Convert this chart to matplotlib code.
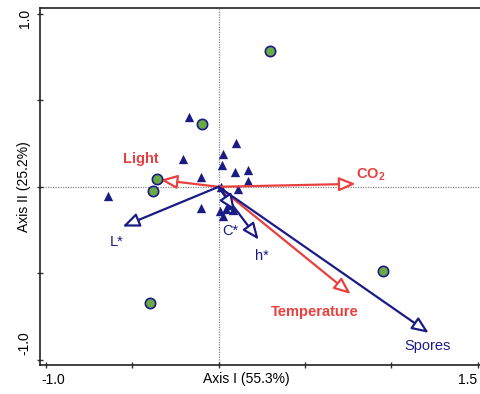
import matplotlib
matplotlib.use('Agg')
import matplotlib.pyplot as plt
import matplotlib.transforms as mtransforms

plt.rcParams['font.family'] = ['Liberation Sans', 'DejaVu Sans']
plt.rcParams['mathtext.fontset'] = 'custom'
plt.rcParams['mathtext.rm'] = 'Liberation Sans'
plt.rcParams['mathtext.bf'] = 'Liberation Sans:bold'

navy = '#1b1b85'
red = '#e8403f'
green = '#6aaa44'

# sites (green circles)
site_x = [0.295, -0.098, -0.359, -0.382, -0.40, 0.95]
site_y = [0.786, 0.364, 0.046, -0.023, -0.67, -0.49]

# samples (triangles)
tri_x = [-0.174, 0.098, 0.023, -0.209, 0.017, 0.093, 0.168, -0.104, 0.168,
         0.012, 0.110, -0.643, -0.104, 0.006, 0.023, 0.058, 0.081, 0.041]
tri_y = [0.405, 0.254, 0.191, 0.162, 0.127, 0.087, 0.098, 0.058, 0.035,
         0.0, -0.012, -0.052, -0.121, -0.139, -0.168, -0.104, -0.133, -0.127]

# environmental vectors (red)
env_names = ['Light', r'CO$_\mathbf{2}$', 'Temperature']
env_x = [-0.336, 0.794, 0.765]
env_y = [0.040, 0.017, -0.620]
env_lab_x = [-0.45, 0.88, 0.555]
env_lab_y = [0.16, 0.07, -0.725]

# response vectors (navy)
resp_names = ['Spores', 'L*', 'h*', 'C*']
resp_x = [1.217, -0.556, 0.232, 0.095]
resp_y = [-0.845, -0.23, -0.306, -0.14]
resp_lab_x = [1.21, -0.59, 0.25, 0.065]
resp_lab_y = [-0.92, -0.32, -0.40, -0.255]

fig = plt.figure(figsize=(4.81, 3.94), dpi=100)
ax = fig.add_axes([0.083, 0.074, 0.917, 0.906])

ax.axhline(0, color='#888888', lw=0.9, ls=(0, (1, 1)), zorder=1)
ax.axvline(0, color='#888888', lw=0.9, ls=(0, (1, 1)), zorder=1)

ax.scatter(tri_x, tri_y, marker='^', s=45, color=navy, zorder=3, linewidths=0)

head = '-|>,head_length=1.0,head_width=0.42'
for x, y in zip(env_x, env_y):
    ax.annotate('', xy=(x, y), xytext=(0, 0),
                arrowprops=dict(arrowstyle=head, fc='white', ec=red, lw=1.6,
                                shrinkA=0, shrinkB=0), zorder=4)
for x, y in zip(resp_x, resp_y):
    ax.annotate('', xy=(x, y), xytext=(0, 0),
                arrowprops=dict(arrowstyle=head, fc='white', ec=navy, lw=1.6,
                                shrinkA=0, shrinkB=0), zorder=4)

ax.scatter(site_x, site_y, marker='o', s=55, color=green, edgecolors=navy,
           linewidths=1.2, zorder=5)

for name, x, y in zip(env_names, env_lab_x, env_lab_y):
    ax.text(x, y, name, color=red, fontsize=10.5, fontweight='bold',
            ha='center', va='center', zorder=6)
for name, x, y in zip(resp_names, resp_lab_x, resp_lab_y):
    ax.text(x, y, name, color=navy, fontsize=10.5, ha='center', va='center', zorder=6)

ax.set_xlim(-1.035, 1.52)
ax.set_ylim(-1.03, 1.035)
ax.set_xticks([-1.0, -0.5, 0.0, 0.5, 1.0, 1.5])
ax.set_xticklabels(['-1.0', '', '', '', '', '1.5'])
ax.set_yticks([-1.0, -0.5, 0.0, 0.5, 1.0])
ax.set_yticklabels(['-1.0', '', '', '', '1.0'], rotation=90, va='center')
ax.tick_params(direction='inout', length=5, width=1, labelsize=10, color='#333333')

# nudge end tick labels like the original
xl = ax.get_xticklabels()
xl[0].set_transform(xl[0].get_transform() + mtransforms.ScaledTranslation(0.07, 0, fig.dpi_scale_trans))
xl[-1].set_transform(xl[-1].get_transform() + mtransforms.ScaledTranslation(-0.1, 0, fig.dpi_scale_trans))
yl = ax.get_yticklabels()
yl[0].set_transform(yl[0].get_transform() + mtransforms.ScaledTranslation(0, 0.17, fig.dpi_scale_trans))
yl[-1].set_transform(yl[-1].get_transform() + mtransforms.ScaledTranslation(0, -0.05, fig.dpi_scale_trans))

ax.set_xlabel('Axis I (55.3%)', fontsize=10)
ax.xaxis.set_label_coords(0.467, -0.021)
ax.set_ylabel('Axis II (25.2%)', fontsize=10, labelpad=-10)

ax.spines['right'].set_visible(False)
for s in ['left', 'top', 'bottom']:
    ax.spines[s].set_linewidth(1.2)
    ax.spines[s].set_color('#222222')

fig.savefig('out.png', dpi=100)
